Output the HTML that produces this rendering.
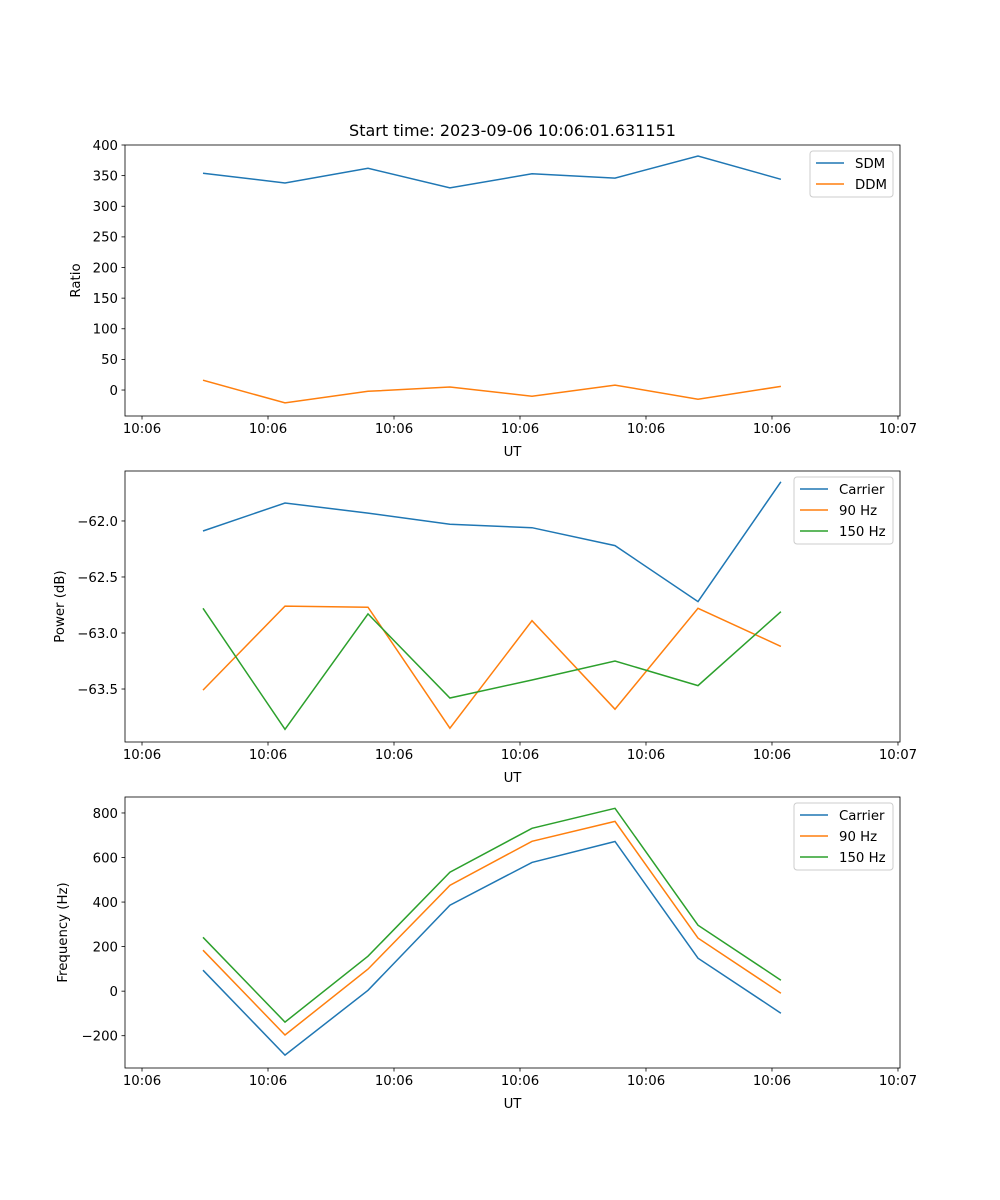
<!DOCTYPE html>
<html><head><meta charset="utf-8"><style>
body{margin:0;background:#fff}
svg{display:block;font-family:"DejaVu Sans","Liberation Sans",sans-serif}
</style></head><body>
<svg id="fig" width="1000" height="1200" xmlns="http://www.w3.org/2000/svg">
<rect width="1000" height="1200" fill="#fff"/>
<text x="512.5" y="136" font-size="16" text-anchor="middle">Start time: 2023-09-06 10:06:01.631151</text>
</svg>
<script>
const times = [4.84, 11.35, 17.94, 24.44, 30.95, 37.54, 44.13, 50.71];
const xTickVals = [0, 10, 20, 30, 40, 50, 60];
const xTickLabels = ["10:06","10:06","10:06","10:06","10:06","10:06","10:07"];
const sdm = [354, 338, 362, 330, 353, 346, 382, 344];
const ddm = [16, -21, -2, 5, -10, 8, -15, 6];
const powCarrier = [-62.09, -61.84, -61.93, -62.03, -62.06, -62.22, -62.72, -61.65];
const pow90 = [-63.51, -62.76, -62.77, -63.85, -62.89, -63.68, -62.78, -63.12];
const pow150 = [-62.78, -63.86, -62.83, -63.58, -63.42, -63.25, -63.47, -62.81];
const freqCarrier = [94, -287, 4, 386, 578, 672, 148, -99];
const freq90 = [184, -197, 99, 475, 673, 762, 238, -9];
const freq150 = [242, -139, 157, 534, 731, 821, 296, 49];
const ratioTicks = [0, 50, 100, 150, 200, 250, 300, 350, 400];
const powerTicks = [-63.5, -63.0, -62.5, -62.0];
const freqTicks = [-200, 0, 200, 400, 600, 800];

const NS = "http://www.w3.org/2000/svg";
const fig = document.getElementById('fig');
const C = ['#1f77b4', '#ff7f0e', '#2ca02c'];
function el(tag, attrs, parent) {
  const e = document.createElementNS(NS, tag);
  for (const k in attrs) e.setAttribute(k, attrs[k]);
  (parent || fig).appendChild(e);
  return e;
}
const L = 125, R = 900, XMIN = -1.35, XMAX = 60.16;
const xs = v => L + (v - XMIN) / (XMAX - XMIN) * (R - L);

function panel(idx, top, bot, ymin, ymax, yTicks, yFmt, ylabel, series, names, legW) {
  const g = el('g', {});
  
  
  const ys = v => bot - (v - ymin) / (ymax - ymin) * (bot - top);
  series.forEach((s, i) => {
    const p = el('polyline', {points: s.map((v, j) => xs(times[j]).toFixed(1) + ',' + ys(v).toFixed(1)).join(' '), fill: 'none', stroke: C[i], 'stroke-width': 1.5}, g);
    
    
  });
  const fr = el('rect', {x: L, y: top, width: R - L, height: bot - top, fill: 'none', stroke: '#000', 'stroke-width': 0.8}, g);
  
  
  xTickVals.forEach((v, i) => {
    const x = xs(v);
    el('line', {x1: x, x2: x, y1: bot, y2: bot + 3.5, stroke: '#000', 'stroke-width': 0.8}, g);
    const t = el('text', {x: x, y: bot + 17, 'font-size': 13.3, 'text-anchor': 'middle'}, g);
    t.textContent = xTickLabels[i];
    
    
  });
  yTicks.forEach(v => {
    const y = ys(v);
    el('line', {x1: L, x2: L - 3.5, y1: y, y2: y, stroke: '#000', 'stroke-width': 0.8}, g);
    const t = el('text', {x: L - 7, y: y + 4.8, 'font-size': 13.3, 'text-anchor': 'end'}, g);
    t.textContent = yFmt(v);
    
    
  });
  const xl = el('text', {x: (L + R) / 2, y: bot + 40, 'font-size': 13.3, 'text-anchor': 'middle'}, g);
  xl.textContent = 'UT';
  
  
  const yl = el('text', {x: 0, y: 0, 'font-size': 13.3, 'text-anchor': 'middle', transform: 'translate(' + ylabel[1] + ',' + (top + bot) / 2 + ') rotate(-90)'}, g);
  yl.textContent = ylabel[0];
  
  
  const lg = el('g', {}, g);
  
  
  const lx = 893 - legW, ly = top + 6, h = 4 + names.length * 21;
  el('rect', {x: lx, y: ly, width: legW, height: h, rx: 3, fill: '#fff', 'fill-opacity': 0.8, stroke: '#ccc', 'stroke-width': 1}, lg);
  names.forEach((n, i) => {
    const yy = ly + 12 + i * 21;
    el('line', {x1: lx + 6, x2: lx + 34, y1: yy, y2: yy, stroke: C[i], 'stroke-width': 1.5}, lg);
    const t = el('text', {x: lx + 45, y: yy + 5, 'font-size': 13.3}, lg);
    t.textContent = n;
    
    
  });
}
panel(1, 145, 416, -42.4, 400, ratioTicks, v => String(v), ['Ratio', 80], [sdm, ddm], ['SDM', 'DDM'], 83);
panel(2, 471, 742, -63.973, -61.554, powerTicks, v => '\u2212' + Math.abs(v).toFixed(1), ['Power (dB)', 64], [powCarrier, pow90, pow150], ['Carrier', '90 Hz', '150 Hz'], 99);
panel(3, 797, 1068, -345, 871.7, freqTicks, v => (v < 0 ? '\u2212' : '') + Math.abs(v), ['Frequency (Hz)', 67], [freqCarrier, freq90, freq150], ['Carrier', '90 Hz', '150 Hz'], 99);
</script>
</body></html>
